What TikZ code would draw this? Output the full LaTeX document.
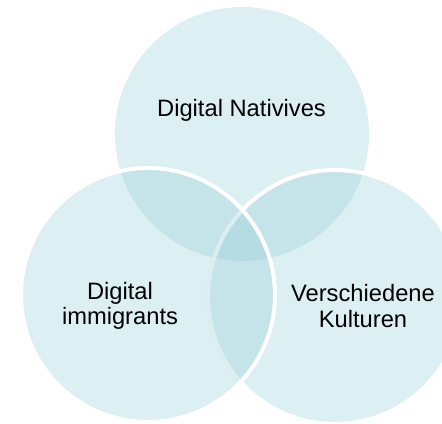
\documentclass[tikz,border=0pt]{standalone}
\usepackage{fontspec}
\setmainfont{Liberation Sans}
\definecolor{vennFill}{RGB}{150,205,215}
\begin{document}
\begin{tikzpicture}
        [x=0.02cm, y=-0.02cm,
        venn/.style={circle, minimum size=5.08cm, inner sep=0pt, fill=vennFill, fill opacity=0.33},
        vennLine/.style={venn, draw=white, line width=0.08cm},
        label/.style={align=center, font=\fontsize{13.5}{14.5}\selectfont, text=black}]
        \useasboundingbox (0,0) rectangle (442,423);
        \clip (0,0) rectangle (442,423);
        \node[venn] (N) at (242,134) {};
        \node[vennLine] (K) at (335,297) {};
        \node[vennLine] (I) at (148,295) {};
        
        \node[label] (tN) at (241.5,110) {Digital Nativives};
        \node[label] (tI) at (120,306) {Digital\\immigrants};
        \node[label] (tK) at (363,306) {Verschiedene\\Kulturen};
    
    \end{tikzpicture}
\end{document}
